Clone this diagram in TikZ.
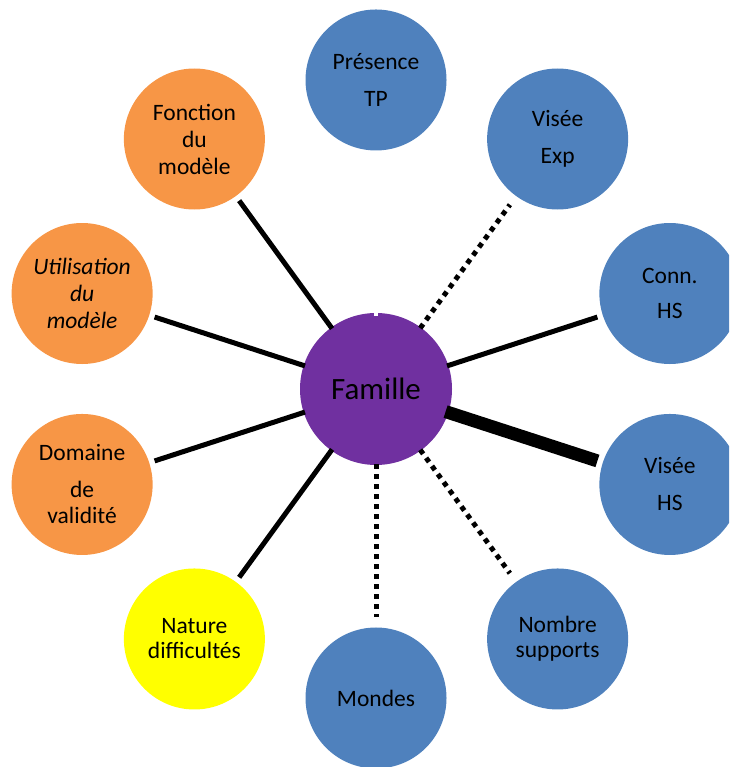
\documentclass[tikz,border=0pt]{standalone}
\usepackage{fontspec}
\setmainfont{Carlito}
\usetikzlibrary{calc}
\definecolor{cblue}{HTML}{4F81BD}
\definecolor{corange}{HTML}{F79646}
\definecolor{cpurple}{HTML}{7030A0}
\definecolor{cyellow}{HTML}{FFFF00}
\tikzset{
  bub/.style={circle, draw=none, minimum size=141pt, inner sep=0pt, align=center, text=black},
  bluebub/.style={bub, fill=cblue},
  orbub/.style={bub, fill=corange},
  yelbub/.style={bub, fill=cyellow},
  famnode/.style={circle, draw=none, fill=cpurple, minimum size=152pt, inner sep=0pt, text=black, font=\fontsize{31pt}{37pt}\selectfont},
  solidlink/.style={line width=5pt, line cap=butt, shorten <=-1.5pt, shorten >=5.5pt},
  dotlink/.style={line width=5pt, line cap=butt, dash pattern=on 5pt off 5pt, shorten <=-1pt, shorten >=10.5pt},
  thicklink/.style={line width=13pt, line cap=butt, shorten <=-3pt, shorten >=5.5pt},
  hiddenlink/.style={line width=4.5pt, white, line cap=butt, shorten <=-3pt, shorten >=5.5pt}
}
\begin{document}
\begin{tikzpicture}[x=1pt, y=1pt]
\useasboundingbox (0,0) rectangle (729,767);
\clip (0,0) rectangle (729,767);
\node[famnode] (fam) at (376,378) {Famille};
\node[bluebub, font=\fontsize{23.5pt}{37pt}\selectfont] (pres) at ($(fam)+(90:309)$) {Présence\\TP};
\node[bluebub, font=\fontsize{23.5pt}{37pt}\selectfont] (vexp) at ($(fam)+(54:309)$) {Visée\\Exp};
\node[bluebub, font=\fontsize{23.5pt}{35pt}\selectfont] (conn) at ($(fam)+(18:309)$) {Conn.\\HS};
\node[bluebub, font=\fontsize{23.5pt}{37pt}\selectfont] (vhs) at ($(fam)+(-18:309)$) {Visée\\HS};
\node[bluebub, font=\fontsize{23.5pt}{25pt}\selectfont] (nomb) at ($(fam)+(-54:309)$) {Nombre\\supports};
\node[bluebub, font=\fontsize{23.5pt}{28pt}\selectfont] (mond) at ($(fam)+(-90:309)$) {Mondes};
\node[yelbub, font=\fontsize{23.5pt}{25pt}\selectfont] (nat) at ($(fam)+(-126:309)$) {Nature\\difficultés};
\node[orbub, font=\fontsize{23.5pt}{26pt}\selectfont] (dom) at ($(fam)+(-162:309)$) {Domaine\\[11pt]de\\validité};
\node[orbub, font=\fontsize{23.5pt}{27pt}\selectfont\itshape] (util) at ($(fam)+(162:309)$) {Utilisation\\du\\modèle};
\node[orbub, font=\fontsize{23.5pt}{27pt}\selectfont] (fonc) at ($(fam)+(126:309)$) {Fonction\\du\\modèle};
\draw[solidlink] (fam) -- (fonc);
\draw[solidlink] (fam) -- (util);
\draw[solidlink] (fam) -- (dom);
\draw[solidlink] (fam) -- (nat);
\draw[solidlink] (fam) -- (conn);
\draw[dotlink] (fam) -- (vexp);
\draw[dotlink] (fam) -- (nomb);
\draw[dotlink] (fam) -- (mond);
\draw[thicklink] (fam) -- (vhs);
\draw[hiddenlink] (fam) -- (pres);
\end{tikzpicture}
\end{document}
